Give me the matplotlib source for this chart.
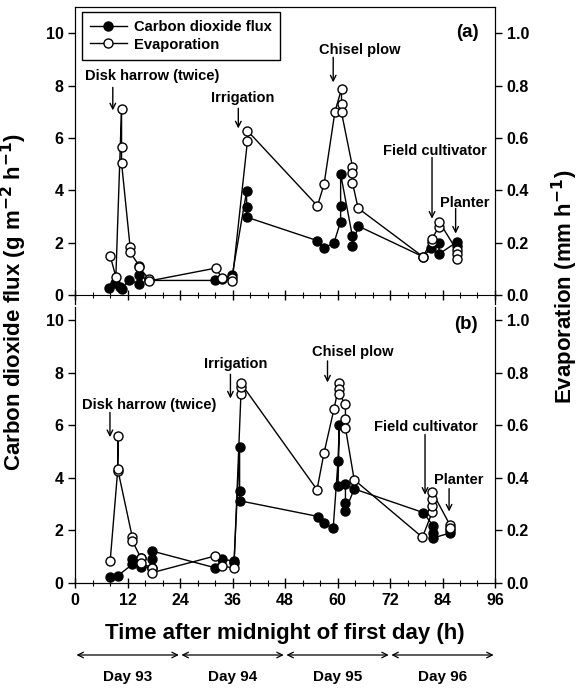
import matplotlib
matplotlib.use("Agg")
import matplotlib.pyplot as plt
import matplotlib.transforms as mtransforms
from matplotlib.ticker import MultipleLocator, FormatStrFormatter

plt.rcParams['font.family'] = ['Liberation Sans', 'DejaVu Sans']
plt.rcParams['font.weight'] = 'bold'
plt.rcParams['mathtext.default'] = 'bf'

# ------------------------------
# data
# ------------------------------
# (a) evaporation, mm/h
evap_a_t = [8.0, 9.3, 10.6, 10.6, 10.6, 12.55, 12.55, 14.6, 14.6, 16.9, 16.9,
            32.1, 33.6, 35.9, 35.9, 39.4, 39.4, 55.4, 56.9, 59.4, 60.9, 60.9, 60.9,
            63.4, 63.4, 63.4, 64.7, 79.5, 81.5, 81.5, 83.2, 83.2, 87.2, 87.2, 87.2]
evap_a = [0.149, 0.069, 0.71, 0.566, 0.505, 0.184, 0.163, 0.112, 0.105, 0.060, 0.053,
          0.102, 0.064, 0.066, 0.051, 0.589, 0.627, 0.340, 0.422, 0.700, 0.787, 0.728, 0.697,
          0.490, 0.464, 0.429, 0.331, 0.146, 0.203, 0.212, 0.261, 0.280, 0.172, 0.155, 0.136]
# (a) CO2 flux, g m-2 h-1
co2_a_t = [7.8, 9.1, 10.2, 10.6, 12.35, 14.5, 14.5, 16.9, 32.0, 33.6, 35.9,
           39.2, 39.2, 39.2, 55.4, 56.9, 59.2, 60.7, 60.7, 60.7, 63.4, 63.4, 64.7,
           79.5, 81.4, 83.2, 83.2, 87.2, 87.2]
co2_a = [0.25, 0.47, 0.30, 0.22, 0.57, 0.42, 0.75, 0.55, 0.55, 0.62, 0.74,
         3.96, 3.35, 2.97, 2.07, 1.78, 2.00, 2.80, 3.41, 4.62, 2.23, 1.87, 2.63,
         1.46, 1.78, 1.97, 1.56, 2.01, 1.87]

# (b) evaporation, mm/h
evap_b_t = [8.0, 9.7, 9.8, 9.7, 13.06, 13.06, 15.08, 15.08, 17.5, 17.5,
            32.0, 33.6, 36.3, 37.9, 37.9, 37.9, 55.3, 56.9, 59.2, 60.4, 60.4, 60.4,
            61.8, 61.8, 61.8, 63.8, 79.4, 81.7, 81.7, 81.7, 81.7, 85.7, 85.7]
evap_b = [0.084, 0.425, 0.561, 0.435, 0.174, 0.160, 0.094, 0.075, 0.058, 0.039,
          0.103, 0.066, 0.056, 0.718, 0.745, 0.760, 0.355, 0.495, 0.663, 0.760, 0.737, 0.718,
          0.680, 0.625, 0.590, 0.393, 0.174, 0.272, 0.294, 0.319, 0.345, 0.221, 0.208]
# (b) CO2 flux, g m-2 h-1
co2_b_t = [8.0, 9.7, 13.06, 13.06, 15.08, 15.08, 17.5, 17.5, 17.5,
           32.0, 33.6, 36.3, 36.3, 37.6, 37.6, 37.6, 55.6, 56.9, 59.0,
           60.1, 60.4, 60.1, 61.8, 61.8, 61.8, 63.8, 79.6, 81.9, 81.9, 81.9, 85.7, 85.7]
co2_b = [0.24, 0.27, 0.71, 0.90, 0.94, 0.62, 0.58, 0.90, 1.22,
         0.58, 0.90, 0.84, 0.75, 5.16, 3.52, 3.13, 2.53, 2.28, 2.09,
         4.63, 6.03, 3.70, 3.78, 3.04, 2.75, 3.58, 2.68, 2.17, 1.90, 1.72, 1.90, 2.02]

days = ["Day 93", "Day 94", "Day 95", "Day 96"]

# events: label, text x, text y, arrow x, arrow top, arrow tip
events_a = [("Disk harrow (twice)", 17.5, 8.35, 8.6, 7.93, 7.05),
            ("Irrigation", 38.3, 7.52, 37.3, 7.13, 6.36),
            ("Chisel plow", 65.1, 9.35, 59.0, 9.08, 8.12),
            ("Field cultivator", 82.2, 5.49, 81.6, 5.25, 2.91),
            ("Planter", 89.1, 3.52, 87.0, 3.30, 2.34)]
events_b = [("Disk harrow (twice)", 16.9, 6.76, 7.95, 6.49, 5.55),
            ("Irrigation", 36.7, 8.32, 35.5, 7.94, 7.02),
            ("Chisel plow", 63.5, 8.78, 57.7, 8.45, 7.63),
            ("Field cultivator", 80.3, 5.93, 80.0, 5.65, 3.36),
            ("Planter", 87.7, 3.93, 85.5, 3.59, 2.72)]

TICK_FS = 11.5
LABEL_FS = 16


def draw_panel(ax, co2_t, co2, evap_t, evap, ylo, yhi, events, tag, tag_xy, bottom):
    ax.plot(co2_t, co2, '-o', color='black', lw=1, ms=6.5, mfc='black', mec='black',
            label='Carbon dioxide flux', zorder=3)
    ax.set_xlim(0, 96)
    ax.set_ylim(ylo, yhi)
    ax.xaxis.set_major_locator(MultipleLocator(12))
    ax.xaxis.set_minor_locator(MultipleLocator(4))
    ax.yaxis.set_major_locator(MultipleLocator(2))
    ax.tick_params(axis='x', which='major', direction='inout', length=7, width=1,
                   labelsize=TICK_FS, labelbottom=bottom)
    ax.tick_params(axis='x', which='minor', direction='inout', length=4, width=0.8)
    ax.tick_params(axis='y', direction='out', length=5, width=1, labelsize=TICK_FS)

    tw = ax.twinx()
    tw.plot(evap_t, evap, '-o', color='black', lw=1, ms=6.5, mfc='white', mec='black',
            label='Evaporation', zorder=3)
    tw.set_ylim(ylo / 10, yhi / 10)
    tw.yaxis.set_major_locator(MultipleLocator(0.2))
    tw.yaxis.set_major_formatter(FormatStrFormatter('%.1f'))
    tw.tick_params(axis='y', direction='out', length=5, width=1, labelsize=TICK_FS)

    for name, tx, ty, axx, a0, a1 in events:
        ax.text(tx, ty, name, ha='center', va='center', fontsize=10.5, fontweight='bold')
        ax.annotate('', xy=(axx, a1), xytext=(axx, a0),
                    arrowprops=dict(arrowstyle='->', lw=1, color='black',
                                    shrinkA=0, shrinkB=0))
    ax.text(tag_xy[0], tag_xy[1], tag, ha='center', va='center',
            fontsize=13.5, fontweight='bold')
    return tw


fig = plt.figure(figsize=(5.82, 6.89), dpi=100)
ax_a = fig.add_axes([0.1292, 0.5588, 0.7213, 0.4310])
ax_b = fig.add_axes([0.1292, 0.1538, 0.7213, 0.4006])

tw_a = draw_panel(ax_a, co2_a_t, co2_a, evap_a_t, evap_a, -0.35, 11, events_a,
                  "(a)", (89.8, 10.04), False)
tw_b = draw_panel(ax_b, co2_b_t, co2_b, evap_b_t, evap_b, 0, 10.5, events_b,
                  "(b)", (89.3, 9.85), True)

# spines
ax_a.spines['bottom'].set_position(('data', 0))
tw_a.spines['bottom'].set_visible(False)
ax_b.spines['top'].set_visible(False)
tw_b.spines['top'].set_visible(False)

h1, l1 = ax_a.get_legend_handles_labels()
h2, l2 = tw_a.get_legend_handles_labels()
leg = tw_a.legend(h1 + h2, l1 + l2, loc='upper left', bbox_to_anchor=(0.0155, 0.984),
                  borderaxespad=0, fancybox=False, edgecolor='black', framealpha=1,
                  prop={'size': 10.6, 'weight': 'bold'}, handlelength=2.5,
                  borderpad=0.55, labelspacing=0.25, handletextpad=0.5)
leg.get_frame().set_linewidth(1)

fig.text(0.024, 1 - 302 / 689, "Carbon dioxide flux (g m$^{-2}$ h$^{-1}$)", rotation=90,
         ha='center', va='center', fontsize=LABEL_FS, fontweight='bold')
fig.text(0.971, 1 - 287 / 689, "Evaporation (mm h$^{-1}$)", rotation=90,
         ha='center', va='center', fontsize=LABEL_FS, fontweight='bold')
fig.text(0.4897, 1 - 634 / 689, "Time after midnight of first day (h)",
         ha='center', va='center', fontsize=LABEL_FS, fontweight='bold')

# day arrows under the axis
trans = mtransforms.blended_transform_factory(ax_b.transData, fig.transFigure)
for i, d in enumerate(days):
    ax_b.annotate('', xy=(i * 24 + 23.7, 1 - 655 / 689), xytext=(i * 24 + 0.3, 1 - 655 / 689),
                  xycoords=trans, textcoords=trans,
                  arrowprops=dict(arrowstyle='<->', lw=0.9, color='black',
                                  shrinkA=0, shrinkB=0), annotation_clip=False)
    ax_b.text(i * 24 + 12, 1 - 677 / 689, d, transform=trans,
              ha='center', va='center', fontsize=11, fontweight='bold')

fig.savefig("out.png", dpi=100)
